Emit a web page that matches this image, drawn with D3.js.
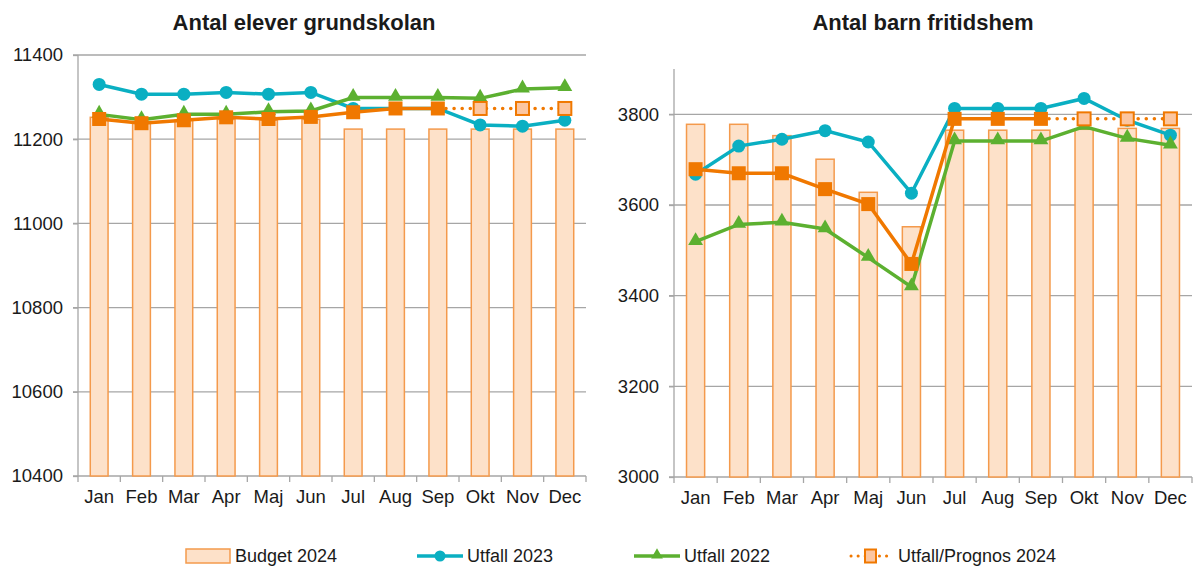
<!DOCTYPE html>
<html lang="sv">
<head>
<meta charset="utf-8">
<title>Antal elever och barn</title>
<script src="https://cdn.jsdelivr.net/npm/d3@7"></script>
<style>
  body { margin: 0; background: #fff; }
  svg { font-family: "Liberation Sans", Arial, sans-serif; }
  .tick text { font-size: 18.5px; fill: #1a1a1a; }
</style>
</head>
<body>
<script>
// months on x axis
var months = ["Jan", "Feb", "Mar", "Apr", "Maj", "Jun", "Jul", "Aug", "Sep", "Okt", "Nov", "Dec"];

// Antal elever grundskolan
var grundBudget2024 = [11252, 11241, 11245, 11247, 11245, 11247, 11224, 11224, 11224, 11224, 11224, 11224];
var grundUtfall2023 = [11330, 11307, 11307, 11311, 11307, 11311, 11273, 11273, 11273, 11234, 11231, 11245];
var grundUtfall2022 = [11259, 11246, 11259, 11259, 11265, 11267, 11299, 11299, 11299, 11297, 11319, 11322];
var grundUtfall2024 = [11248, 11238, 11245, 11252, 11248, 11253, 11264, 11273, 11273];
var grundPrognos2024 = [11273, 11273, 11273];
var grundTicks = [10400, 10600, 10800, 11000, 11200, 11400];

// Antal barn fritidshem
var fritidBudget2024 = [3778, 3778, 3753, 3701, 3628, 3552, 3765, 3765, 3765, 3767, 3769, 3769];
var fritidUtfall2023 = [3668, 3730, 3745, 3764, 3739, 3626, 3813, 3813, 3813, 3835, 3787, 3754];
var fritidUtfall2022 = [3519, 3557, 3562, 3547, 3484, 3419, 3741, 3741, 3741, 3773, 3747, 3732];
var fritidUtfall2024 = [3679, 3670, 3670, 3635, 3602, 3470, 3790, 3790, 3790];
var fritidPrognos2024 = [3790, 3790, 3790];
var fritidTicks = [3000, 3200, 3400, 3600, 3800];

var legendLabels = ["Budget 2024", "Utfall 2023", "Utfall 2022", "Utfall/Prognos 2024"];

var teal = "#0aafc2";
var green = "#5cb030";
var orange = "#f07800";
var barFill = "#fde1c9";
var barStroke = "#f49a4c";
var prognosFill = "#fcc6a0";
var gridColor = "#a6a6a6";

var w = 1193, h = 568;

var svg = d3.select("body").append("svg")
  .attr("width", w)
  .attr("height", h);

function drawChart(opt) {
  var g = svg.append("g");

  var x = d3.scaleBand()
    .domain(months)
    .range([opt.left, opt.right]);

  var y = d3.scaleLinear()
    .domain(opt.domain)
    .range([opt.bottom, opt.top]);

  // gridlines
  g.append("g")
    .selectAll("line")
    .data(opt.ticks.slice(1))
    .enter()
    .append("line")
    .attr("x1", opt.left - 5)
    .attr("x2", opt.right)
    .attr("y1", function(d) { return y(d); })
    .attr("y2", function(d) { return y(d); })
    .attr("stroke", gridColor)
    .attr("stroke-width", 1.3);

  // y axis
  var yAxis = g.append("g")
    .attr("transform", "translate(" + opt.left + ",0)")
    .call(d3.axisLeft(y).tickValues(opt.ticks).tickSize(5).tickPadding(10).tickFormat(d3.format("d")));
  yAxis.select(".domain").attr("stroke", gridColor).attr("stroke-width", 1.3)
    .attr("d", "M0," + opt.top + "V" + opt.bottom);
  yAxis.selectAll(".tick line").attr("stroke", gridColor).attr("stroke-width", 1.3);

  // x axis, ticks between categories
  var xAxis = g.append("g")
    .attr("transform", "translate(0," + opt.bottom + ")")
    .call(d3.axisBottom(x).tickSize(0).tickPadding(14));
  xAxis.select(".domain").attr("stroke", gridColor).attr("stroke-width", 1.3)
    .attr("d", "M" + (opt.left - 5) + ",0H" + opt.right);
  xAxis.selectAll(".tick text").attr("dy", "0.71em");
  g.append("g")
    .selectAll("line")
    .data(months)
    .enter()
    .append("line")
    .attr("x1", function(d) { return x(d); })
    .attr("x2", function(d) { return x(d); })
    .attr("y1", opt.bottom)
    .attr("y2", opt.bottom + 6)
    .attr("stroke", gridColor)
    .attr("stroke-width", 1.3);
  g.append("line")
    .attr("x1", opt.right).attr("x2", opt.right)
    .attr("y1", opt.bottom).attr("y2", opt.bottom + 6)
    .attr("stroke", gridColor).attr("stroke-width", 1.3);

  // budget bars
  var bw = x.bandwidth() * 0.42;
  g.append("g")
    .selectAll("rect")
    .data(opt.budget)
    .enter()
    .append("rect")
    .attr("x", function(d, i) { return x(months[i]) + (x.bandwidth() - bw) / 2; })
    .attr("y", function(d) { return y(d); })
    .attr("width", bw)
    .attr("height", function(d) { return opt.bottom - y(d); })
    .attr("fill", barFill)
    .attr("stroke", barStroke)
    .attr("stroke-width", 1.5);

  var cx = function(i) { return x(months[i]) + x.bandwidth() / 2; };
  var line = d3.line()
    .x(function(d) { return cx(d.i); })
    .y(function(d) { return y(d.v); });
  var pts = function(arr, offset) {
    return arr.map(function(v, i) { return { i: i + (offset || 0), v: v }; });
  };

  // Utfall 2023
  g.append("path")
    .datum(pts(opt.u2023))
    .attr("d", line)
    .attr("fill", "none")
    .attr("stroke", teal)
    .attr("stroke-width", 3.5);
  g.append("g")
    .selectAll("circle")
    .data(pts(opt.u2023))
    .enter()
    .append("circle")
    .attr("cx", function(d) { return cx(d.i); })
    .attr("cy", function(d) { return y(d.v); })
    .attr("r", 6.5)
    .attr("fill", teal);

  // Utfall 2022
  g.append("path")
    .datum(pts(opt.u2022))
    .attr("d", line)
    .attr("fill", "none")
    .attr("stroke", green)
    .attr("stroke-width", 3.5);
  g.append("g")
    .selectAll("path")
    .data(pts(opt.u2022))
    .enter()
    .append("path")
    .attr("d", d3.symbol().type(d3.symbolTriangle).size(95))
    .attr("transform", function(d) { return "translate(" + cx(d.i) + "," + (y(d.v) - 1) + ")"; })
    .attr("fill", green);

  // Prognos 2024 (dotted, from last actual month)
  var last = opt.u2024.length - 1;
  var prog = [{ i: last, v: opt.u2024[last] }].concat(pts(opt.prognos, opt.u2024.length));
  g.append("path")
    .datum(prog)
    .attr("d", line)
    .attr("fill", "none")
    .attr("stroke", orange)
    .attr("stroke-width", 3.5)
    .attr("stroke-linecap", "round")
    .attr("stroke-dasharray", "0.1 8");
  g.append("g")
    .selectAll("rect")
    .data(pts(opt.prognos, opt.u2024.length))
    .enter()
    .append("rect")
    .attr("x", function(d) { return cx(d.i) - 6.5; })
    .attr("y", function(d) { return y(d.v) - 6.5; })
    .attr("width", 13)
    .attr("height", 13)
    .attr("fill", prognosFill)
    .attr("stroke", orange)
    .attr("stroke-width", 2);

  // Utfall 2024
  g.append("path")
    .datum(pts(opt.u2024))
    .attr("d", line)
    .attr("fill", "none")
    .attr("stroke", orange)
    .attr("stroke-width", 3.5);
  g.append("g")
    .selectAll("rect")
    .data(pts(opt.u2024))
    .enter()
    .append("rect")
    .attr("x", function(d) { return cx(d.i) - 7; })
    .attr("y", function(d) { return y(d.v) - 7; })
    .attr("width", 14)
    .attr("height", 14)
    .attr("fill", orange);

  // title
  g.append("text")
    .attr("x", opt.titleX)
    .attr("y", 30)
    .attr("text-anchor", "middle")
    .attr("font-size", "22px")
    .attr("font-weight", "bold")
    .attr("fill", "#1a1a1a")
    .text(opt.title);
}

drawChart({
  title: "Antal elever grundskolan",
  titleX: 304,
  left: 78, right: 586, top: 55, bottom: 476,
  domain: [10400, 11400],
  ticks: grundTicks,
  budget: grundBudget2024,
  u2023: grundUtfall2023,
  u2022: grundUtfall2022,
  u2024: grundUtfall2024,
  prognos: grundPrognos2024
});

drawChart({
  title: "Antal barn fritidshem",
  titleX: 923,
  left: 674, right: 1192, top: 69, bottom: 477,
  domain: [3000, 3900],
  ticks: fritidTicks,
  budget: fritidBudget2024,
  u2023: fritidUtfall2023,
  u2022: fritidUtfall2022,
  u2024: fritidUtfall2024,
  prognos: fritidPrognos2024
});

// legend
var ly = 556;
var legend = svg.append("g");
var lx = [186, 417, 634, 849];
var textX = [235, 467, 684, 898];

legend.append("rect")
  .attr("x", lx[0]).attr("y", ly - 7)
  .attr("width", 44).attr("height", 14)
  .attr("fill", barFill).attr("stroke", barStroke).attr("stroke-width", 1.5);

legend.append("line")
  .attr("x1", lx[1]).attr("x2", lx[1] + 46)
  .attr("y1", ly).attr("y2", ly)
  .attr("stroke", teal).attr("stroke-width", 3.5);
legend.append("circle")
  .attr("cx", lx[1] + 23).attr("cy", ly).attr("r", 5.5).attr("fill", teal);

legend.append("line")
  .attr("x1", lx[2]).attr("x2", lx[2] + 46)
  .attr("y1", ly).attr("y2", ly)
  .attr("stroke", green).attr("stroke-width", 3.5);
legend.append("path")
  .attr("d", d3.symbol().type(d3.symbolTriangle).size(60))
  .attr("transform", "translate(" + (lx[2] + 23) + "," + (ly - 1) + ")")
  .attr("fill", green);

legend.append("line")
  .attr("x1", lx[3] + 2).attr("x2", lx[3] + 42)
  .attr("y1", ly).attr("y2", ly)
  .attr("stroke", orange).attr("stroke-width", 3)
  .attr("stroke-linecap", "round")
  .attr("stroke-dasharray", "0.1 7");
legend.append("rect")
  .attr("x", lx[3] + 16).attr("y", ly - 6.5)
  .attr("width", 11).attr("height", 13)
  .attr("fill", prognosFill).attr("stroke", orange).attr("stroke-width", 2);

legend.selectAll("text")
  .data(legendLabels)
  .enter()
  .append("text")
  .attr("x", function(d, i) { return textX[i]; })
  .attr("y", ly)
  .attr("dy", "0.35em")
  .attr("font-size", "18px")
  .attr("fill", "#1a1a1a")
  .text(function(d) { return d; });
</script>
</body>
</html>
